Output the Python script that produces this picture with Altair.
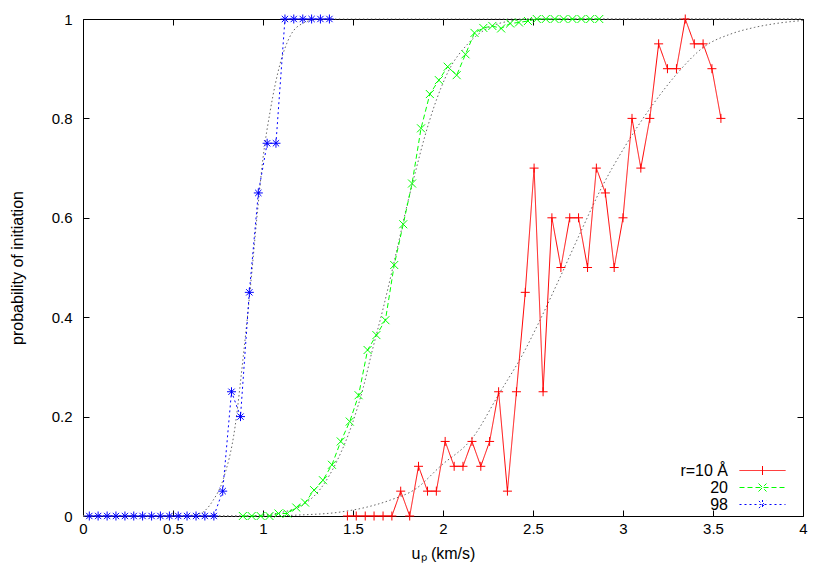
import altair as alt
import pandas as pd

# ---------------- data ----------------
series_names = ["r=10 Å", "20", "98"]
series_colors = ["#ff0000", "#00ff00", "#0000ff"]
series_dashes = [[1, 0], [5, 3], [2, 3]]

red_x = [1.469, 1.518, 1.568, 1.617, 1.667, 1.716, 1.765, 1.815, 1.864, 1.914,
         1.963, 2.012, 2.062, 2.111, 2.161, 2.210, 2.259, 2.309, 2.358, 2.408,
         2.457, 2.506, 2.556, 2.605, 2.655, 2.704, 2.753, 2.803, 2.852, 2.902,
         2.951, 3.000, 3.050, 3.099, 3.149, 3.198, 3.247, 3.297, 3.346, 3.396,
         3.445, 3.494, 3.544]
red_y = [0, 0, 0, 0, 0, 0, 0.05, 0, 0.1, 0.05,
         0.05, 0.15, 0.1, 0.1, 0.15, 0.1, 0.15, 0.25, 0.05, 0.25,
         0.45, 0.7, 0.25, 0.6, 0.5, 0.6, 0.6, 0.5, 0.7, 0.65,
         0.5, 0.6, 0.8, 0.7, 0.8, 0.95, 0.9, 0.9, 1.0, 0.95,
         0.95, 0.9, 0.8]

green_x = [0.888, 0.937, 0.987, 1.036, 1.086, 1.135, 1.185, 1.234, 1.284, 1.333,
           1.383, 1.432, 1.482, 1.531, 1.581, 1.630, 1.680, 1.729, 1.779, 1.828,
           1.878, 1.927, 1.977, 2.026, 2.076, 2.125, 2.175, 2.224, 2.274, 2.323,
           2.373, 2.422, 2.472, 2.521, 2.571, 2.620, 2.670, 2.719, 2.769, 2.818,
           2.868]
green_y = [0, 0, 0, 0, 0.005, 0.005, 0.017, 0.027, 0.052, 0.072,
           0.103, 0.15, 0.19, 0.243, 0.334, 0.364, 0.394, 0.505, 0.587, 0.669,
           0.78, 0.849, 0.877, 0.904, 0.887, 0.929, 0.972, 0.982, 0.986, 0.981,
           0.991, 0.993, 0.996, 1, 1, 1, 1, 1, 1, 1,
           1]

blue_x = [0.035, 0.084, 0.134, 0.183, 0.233, 0.282, 0.331, 0.381, 0.430, 0.480,
          0.529, 0.578, 0.628, 0.677, 0.727, 0.776, 0.825, 0.875, 0.924, 0.974,
          1.023, 1.072, 1.122, 1.171, 1.221, 1.270, 1.319, 1.369]
blue_y = [0, 0, 0, 0, 0, 0, 0, 0, 0, 0,
          0, 0, 0, 0, 0, 0.05, 0.25, 0.2, 0.45, 0.65,
          0.75, 0.75, 1, 1, 1, 1, 1, 1]

# fitted curves (gray dotted)
red_fit_x = [0, 1.0, 1.2, 1.43, 1.6, 1.707, 1.85, 1.985, 2.17, 2.31, 2.45, 2.54,
             2.65, 2.763, 2.88, 3.0, 3.17, 3.3, 3.45, 3.6, 3.73, 3.87, 4.0]
red_fit_y = [0, 0.0, 0.002, 0.008, 0.02, 0.032, 0.055, 0.1, 0.16, 0.245, 0.33, 0.395,
             0.48, 0.57, 0.66, 0.737, 0.83, 0.89, 0.944, 0.97, 0.983, 0.992, 0.997]
green_fit_x = [0, 0.9, 1.0, 1.1, 1.22, 1.32, 1.41, 1.5, 1.558, 1.605, 1.669, 1.753,
               1.8, 1.845, 1.9, 1.947, 2.03, 2.133, 2.25, 2.374, 2.5, 4.0]
green_fit_y = [0, 0, 0.002, 0.007, 0.022, 0.055, 0.11, 0.19, 0.26, 0.33, 0.42, 0.55,
               0.625, 0.69, 0.765, 0.82, 0.895, 0.948, 0.982, 0.996, 1.0, 1.0]
blue_fit_x = [0, 0.55, 0.65, 0.72, 0.78, 0.845, 0.89, 0.93, 0.966, 1.0, 1.04, 1.095,
              1.15, 1.225, 1.3, 1.4, 4.0]
blue_fit_y = [0, 0, 0.005, 0.03, 0.075, 0.18, 0.32, 0.46, 0.6, 0.72, 0.815, 0.91,
              0.965, 0.992, 0.999, 1.0, 1.0]

x_ticks = [0, 0.5, 1, 1.5, 2, 2.5, 3, 3.5, 4]
y_ticks = [0, 0.2, 0.4, 0.6, 0.8, 1]

# ---------------- tables ----------------
obs = pd.concat([
    pd.DataFrame({"up": red_x, "p": red_y, "series": series_names[0]}),
    pd.DataFrame({"up": green_x, "p": green_y, "series": series_names[1]}),
    pd.DataFrame({"up": blue_x, "p": blue_y, "series": series_names[2]}),
], ignore_index=True)
fit = pd.concat([
    pd.DataFrame({"up": red_fit_x, "p": red_fit_y, "series": series_names[0]}),
    pd.DataFrame({"up": green_fit_x, "p": green_fit_y, "series": series_names[1]}),
    pd.DataFrame({"up": blue_fit_x, "p": blue_fit_y, "series": series_names[2]}),
], ignore_index=True)

W, H = 720, 497
FONT = "Liberation Sans"
FS = 15
TFS = 16

xscale = alt.Scale(domain=[0, 4], nice=False, zero=False)
yscale = alt.Scale(domain=[0, 1], nice=False, zero=False)
color_scale = alt.Scale(domain=series_names, range=series_colors)
dash_scale = alt.Scale(domain=series_names, range=series_dashes)

marker_paths = [
    "M-1,0H1M0,-1V1",
    "M-1,-1L1,1M-1,1L1,-1",
    "M-1,0H1M0,-1V1M-0.7,-0.7L0.7,0.7M-0.7,0.7L0.7,-0.7",
]
marker_sizes = [81, 64, 81]
# legend keys: sample line with the marker in its middle; the leading zero-length
# segment keeps every entry's left bound identical so that labels right-align
legend_paths = [
    "M-12,0L-12,0M-2.875,0H2.875M0,-0.5625V0.5625",
    "M-12,0L-12,0M-2.875,0H2.875M-0.5,-0.5L0.5,0.5M-0.5,0.5L0.5,-0.5",
    "M-12,0L-12,0M-2.875,0H2.875M0,-0.5625V0.5625M-0.45,-0.45L0.45,0.45M-0.45,0.45L0.45,-0.45",
]

common_tick = dict(ticks=True, tickSize=6, tickColor="black", tickWidth=1,
                   labels=False, domain=False, grid=False, title=None)

ax_x_main = alt.Axis(values=x_ticks, format="~g", ticks=False, domain=False, grid=False,
                     labelFont=FONT, labelFontSize=FS, labelColor="black", labelPadding=5,
                     labelFlush=False, labelOverlap=False,
                     title="uₚ (km/s)", titleFont=FONT, titleFontSize=TFS,
                     titleFontWeight="normal", titleColor="black", titlePadding=9)
ax_y_main = alt.Axis(values=y_ticks, format="~g", ticks=False, domain=False, grid=False,
                     labelFont=FONT, labelFontSize=FS, labelColor="black", labelPadding=11,
                     labelFlush=False, labelOverlap=False,
                     title="probability of initiation", titleFont=FONT, titleFontSize=TFS,
                     titleFontWeight="normal", titleColor="black", titlePadding=26)


def tick_axis(orient, offset, vals):
    return alt.Axis(orient=orient, offset=offset, values=vals, **common_tick)


# fitted curves carry the labelled axes
fit_layer = alt.Chart(fit).mark_line(
    color="#666666", strokeWidth=1, strokeDash=[1.5, 2.5], interpolate="monotone"
).encode(
    x=alt.X("up:Q", scale=xscale, axis=ax_x_main),
    y=alt.Y("p:Q", scale=yscale, axis=ax_y_main),
    detail="series:N",
)

line_layers = []
point_layers = []
for i, name in enumerate(series_names):
    if i == 0:
        lxa = tick_axis("top", -H, x_ticks)      # inward ticks on bottom edge
        lya = tick_axis("right", -W, y_ticks)    # inward ticks on left edge
        pxa = tick_axis("bottom", -H, x_ticks)   # inward ticks on top edge
        pya = tick_axis("left", -W, y_ticks)     # inward ticks on right edge
    else:
        lxa = lya = pxa = pya = None
    sub = alt.Chart(obs).transform_filter(alt.datum.series == name)
    line_layers.append(
        sub.mark_line(strokeWidth=1, color=series_colors[i],
                      strokeDash=series_dashes[i]).encode(
            x=alt.X("up:Q", scale=xscale, axis=lxa),
            y=alt.Y("p:Q", scale=yscale, axis=lya),
            order="up:Q",
        )
    )
    point_layers.append(
        sub.mark_point(shape=marker_paths[i], size=marker_sizes[i], filled=False,
                       strokeWidth=1, opacity=1, color=series_colors[i]).encode(
            x=alt.X("up:Q", scale=xscale, axis=pxa),
            y=alt.Y("p:Q", scale=yscale, axis=pya),
        )
    )

legend_def = alt.Legend(
    title=None, orient="none", legendX=671, legendY=443, direction="vertical",
    labelFont=FONT, labelFontSize=TFS, labelColor="black", labelAlign="right",
    labelOffset={"expr": "-43"}, symbolSize=256, symbolStrokeWidth=1, symbolOpacity=1,
    rowPadding={"expr": "-1.5"}, padding=0,
)
legend_layer = alt.Chart(obs).mark_point(filled=False, strokeWidth=1, opacity=0, size=256).encode(
    x=alt.X("up:Q", scale=xscale, axis=None),
    y=alt.Y("p:Q", scale=yscale, axis=None),
    color=alt.Color("series:N", scale=color_scale, legend=legend_def),
    shape=alt.Shape("series:N", scale=alt.Scale(domain=series_names, range=legend_paths),
                    legend=legend_def),
    strokeDash=alt.StrokeDash("series:N", scale=dash_scale, legend=legend_def),
)

chart = alt.layer(
    fit_layer, *line_layers, *point_layers, legend_layer
).resolve_axis(
    x="independent", y="independent"
).properties(
    width=W, height=H,
    autosize=alt.AutoSizeParams(type="none"),
    padding={"left": 75, "top": 11, "right": 12, "bottom": 50},
    background="white",
).configure_view(
    stroke="black", strokeWidth=1
)

chart.save("out.html", embed_options={"renderer": "svg", "actions": False})
